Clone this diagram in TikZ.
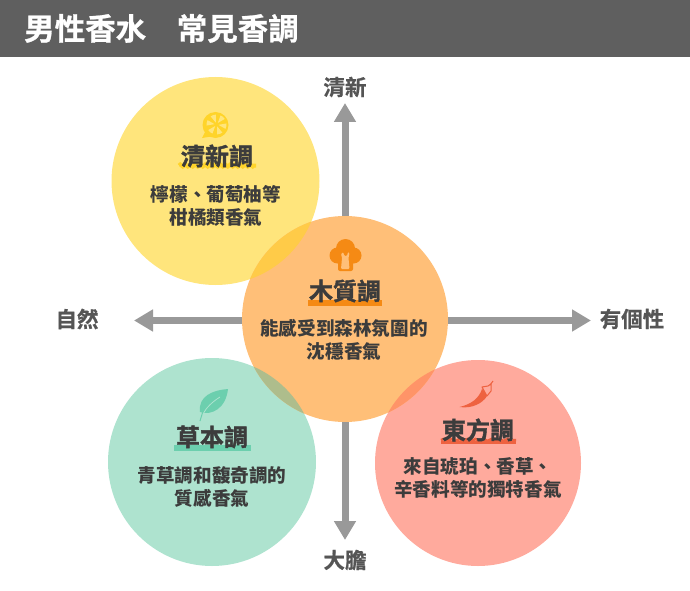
\documentclass[tikz,border=0pt]{standalone}
\usepackage{fontspec}
\setmainfont{Noto Sans CJK TC}
\newfontfamily\headfont[FakeBold=1.6]{Noto Sans CJK TC Bold}
\newfontfamily\labelfont[FakeBold=0.8]{Noto Sans CJK TC Bold}
\usetikzlibrary{arrows.meta,calc,decorations.pathmorphing}

\definecolor{barcolor}{HTML}{5F5F5F}
\definecolor{axiscolor}{HTML}{999999}
\definecolor{labelcolor}{HTML}{555555}
\definecolor{textcolor}{HTML}{3C3C3C}
\definecolor{freshcolor}{HTML}{FFE57C}
\definecolor{woodcolor}{HTML}{FFBF78}
\definecolor{herbcolor}{HTML}{AEE3CF}
\definecolor{spicecolor}{HTML}{FFAA9D}
\definecolor{freshmix}{HTML}{FFCB48}
\definecolor{herbmix}{HTML}{AEBD8C}
\definecolor{spicemix}{HTML}{FF9468}
\definecolor{lemoncolor}{HTML}{FFD42A}
\definecolor{treecolor}{HTML}{F58A14}
\definecolor{leafcolor}{HTML}{6CCFAE}
\definecolor{chilicolor}{HTML}{EE6240}

\tikzset{
  blob/.style={circle,inner sep=0pt,outer sep=0pt,minimum size=206pt},
  axisarrow/.style={line width=7pt,axiscolor,-{Triangle[length=19pt,width=21pt]}},
  axislabel/.style={font=\labelfont\fontsize{21.5}{22}\selectfont,text=labelcolor},
  heading/.style={font=\headfont\fontsize{24}{24}\selectfont,text=textcolor},
  bodytext/.style={font=\fontsize{18.6}{23.5}\selectfont\bfseries,text=textcolor,align=center},
}

\begin{document}
\begin{tikzpicture}[x=1pt,y=-1pt]
 \useasboundingbox (0,0) rectangle (690,591);

    % title bar
    \fill[barcolor] (0,0) rectangle (690,57);
    \node (title) at (161.5,28.5) [font=\labelfont\fontsize{30.5}{31}\selectfont,text=white] {男性香水\hspace{1em}常見香調};

    % circles
    \node[blob,fill=freshcolor,minimum size=208pt] (fresh) at (215.5,181) {};
    \node[blob,fill=herbcolor,minimum size=208pt] (herb) at (212,462) {};
    \node[blob,fill=spicecolor] (spice) at (478,463) {};
    \node[blob,fill=woodcolor] (wood) at (345,319) {};

    % overlaps
    \begin{scope}
      \clip (345,319) circle (103);
      \fill[freshmix] (215.5,181) circle (104);
      \fill[herbmix] (212,462) circle (104);
      \fill[spicemix] (478,463) circle (103);
    \end{scope}

    % draw axes
    \coordinate (up) at (345,103);
    \coordinate (down) at (345,540);
    \coordinate (left) at (134,320.5);
    \coordinate (right) at (591,320.5);
    \draw[axisarrow] (wood.north) -- (up);
    \draw[axisarrow] (wood.south) -- (down);
    \draw[axisarrow] (wood.west |- left) -- (left);
    \draw[axisarrow] (wood.east |- right) -- (right);
    \node[axislabel] (uplabel) at (345,87) {清新};
    \node[axislabel] (downlabel) at (345,560) {大膽};
    \node[axislabel] (leftlabel) at (77,319) {自然};
    \node[axislabel] (rightlabel) at (632,319) {有個性};

    % lemon
    \fill[lemoncolor] (215.5,125) circle (13);
    \fill[lemoncolor] (206,130) -- (202,138) -- (211,136.5) -- cycle;
    \foreach \a in {10,70,...,310}
      \fill[freshcolor] (216.5,124.5) ++(\a:2) -- ++(\a-20:8) arc[start angle=\a-20,end angle=\a+20,radius=8] -- cycle;

    % tree
    \fill[treecolor] (345.5,248.5) circle (9.5);
    \fill[treecolor] (337.5,255.5) circle (8);
    \fill[treecolor] (353.5,255.5) circle (8);
    \fill[treecolor,rounded corners=2pt] (338,258) rectangle (353,271);
    \fill[woodcolor,rounded corners=1pt] (343,252) -- (344.5,256) -- (347,256) -- (348,252) -- (349.5,253) -- (348.5,258) -- (349.5,269) -- (341,269) -- (342,258) -- (341,254) -- cycle;

    % leaf
    \fill[leafcolor] (228,389) .. controls (213,390) and (198,396) .. (200,412)
      .. controls (212,416) and (226,408) .. cycle;
    \draw[herbcolor,line width=0.8pt] (220,397) .. controls (212,402) and (206,408) .. (203,414);
    \draw[leafcolor,line width=1pt] (203,411) -- (200,421);

    % chili
    \fill[chilicolor] (459.5,407) .. controls (472,404) and (479,398) .. (482,389)
      .. controls (485,391) and (487,394) .. (487,396) .. controls (483,403) and (472,409) .. cycle;
    \draw[chilicolor,line width=1pt,fill=spicecolor,line join=round] (482,387) -- (488,386) -- (491,384) -- (491,391) -- (487,396) -- cycle;
    \draw[chilicolor,line width=1pt] (490,385) -- (493,381);

    % underlines
    \draw[lemoncolor,line width=4pt,decorate,decoration={zigzag,amplitude=1pt,segment length=5pt}] (179,165.5) -- (256,165.5);
    \fill[treecolor] (308,300) rectangle (382,306);
    \fill[leafcolor] (174,445) rectangle (251,451);
    \fill[chilicolor] (441,440.5) rectangle (516,444);
    \draw[chilicolor,line width=2.5pt,decorate,decoration={snake,amplitude=1pt,segment length=8pt}] (441,440) -- (516,440);

    % fresh text
    \node[heading] (freshhead) at (217,156) {清新調};
    \node[bodytext] (freshbody) at (216,206) {檸檬、葡萄柚等\\柑橘類香氣};

    % wood text
    \node[heading] (woodhead) at (345,291) {木質調};
    \node[bodytext] (woodbody) at (344,340) {能感受到森林氛圍的\\沈穩香氣};

    % herb text
    \node[heading] (herbhead) at (212,437) {草本調};
    \node[bodytext] (herbbody) at (212,487) {青草調和馥奇調的\\質感香氣};

    % spice text
    \node[heading] (spicehead) at (478,430) {東方調};
    \node[bodytext] (spicebody) at (478,478) {來自琥珀、香草、\\辛香料等的獨特香氣};

\end{tikzpicture}
\end{document}
